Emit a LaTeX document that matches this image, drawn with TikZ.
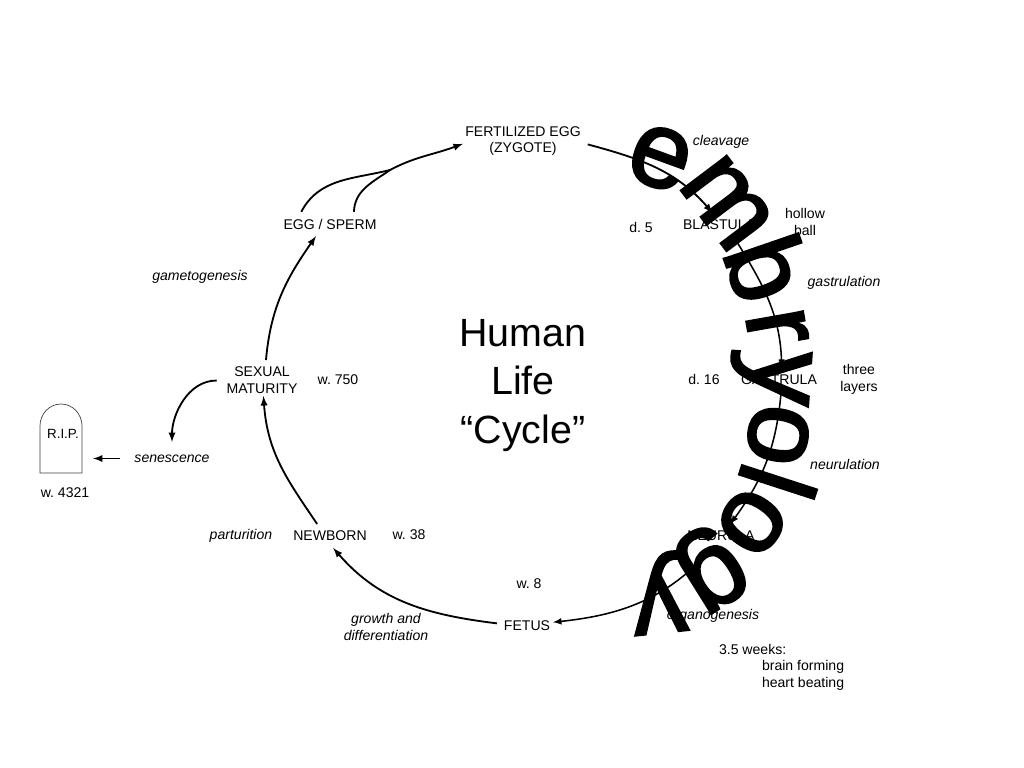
\documentclass[tikz,border=0pt]{standalone}
\usepackage{fontspec}
\setmainfont{Liberation Sans}
\newfontfamily\bigfont[FakeBold=2.2]{Liberation Sans}
\usetikzlibrary{arrows}
\begin{document}
\frenchspacing
\begin{tikzpicture}
	[   x=0.025cm,y=0.025cm,
		lnode/.style={font=\fontsize{10}{12}\selectfont,align=center,inner sep=2pt,outer sep=3pt},
		inode/.style={lnode,font=\fontsize{10}{12}\selectfont\itshape},
		bnode/.style={font=\fontsize{77}{77}\selectfont\bigfont,inner sep=0pt},
	]
	\tikzset{normal arrow/.style={draw,-latex,line width=1.3pt},
		thin arrow/.style={draw,-latex,line width=1.1pt}}
	\useasboundingbox (0,0) rectangle (1024,-768);
	
	\node[lnode] (zygote) at (523,-141) {FERTILIZED EGG\\(ZYGOTE)};
	\node[lnode] (blastula) at (719,-225) {BLASTULA};
	\node[lnode] (gastrula) at (779,-380) {GASTRULA};
	\node[lnode] (neurula) at (721,-536) {NEURULA};
	\node[lnode] (fetus) at (527,-626) {FETUS};
	\node[lnode] (newborn) at (330,-536) {NEWBORN};
	\node[lnode] (maturity) at (262,-380.5) {SEXUAL\\MATURITY};
	\node[lnode] (egg) at (330,-224) {EGG / SPERM};
	\node[inode] (senescence) at (172,-458.5) {senescence};
	\node[lnode,font=\fontsize{9.5}{11}\selectfont] (rip) at (63,-434) {R.I.P.};
	
	\node[inode] (cleavage) at (721,-142) {cleavage};
	\node[inode] (gastrulation) at (844,-283) {gastrulation};
	\node[inode] (neurulation) at (845,-464) {neurulation};
	\node[inode] (organogenesis) at (713,-616) {organogenesis};
	\node[inode] (growth) at (386,-627) {growth and\\differentiation};
	\node[inode] (parturition) at (241,-536) {parturition};
	\node[inode] (gametogenesis) at (200,-277) {gametogenesis};
	
	\node[lnode] (d-5) at (641,-227) {d. 5};
	\node[lnode] (d-16) at (704,-379) {d. 16};
	\node[lnode] (w-8) at (529,-584) {w. 8};
	\node[lnode] (w-38) at (409,-535) {w. 38};
	\node[lnode] (w-750) at (338,-380) {w. 750};
	\node[lnode] (w-4321) at (65,-493) {w. 4321};
	\node[lnode] (hollow) at (805,-222) {hollow\\ball};
	\node[lnode] (three) at (859,-379) {three\\layers};
	\node[lnode,anchor=west] (weeks) at (712,-649) {3.5 weeks:};
	\node[lnode,anchor=west] (brain) at (755,-667) {brain forming};
	\node[lnode,anchor=west] (heart) at (755,-684) {heart beating};
	
	\node[font=\fontsize{28}{34.5}\selectfont,align=center] (title) at (523,-385.5) {Human\\Life\\“Cycle”};
	
	% grave stone
	\draw[line width=0.5pt,draw=black!75] (40,-473) -- (40,-426) arc (180:0:21 and 22) -- (82,-473) -- cycle;
	\coordinate (stone) at (93,-458.5);
	
	\path[normal arrow] (zygote.-3) to[out=-15,in=131] (blastula.118);
	\path[thin arrow] (blastula.-39) to[out=-58,in=92] (gastrula.77);
	\path[thin arrow] (gastrula.-80) to[out=-95,in=54] (neurula.52);
	\path[thin arrow,shorten >=-3pt] (neurula.-125) to[out=-132,in=6] (fetus.8);
	\path[normal arrow] (fetus.175) to[out=173,in=-49] (newborn.-75);
	\path[normal arrow,shorten >=-3.5pt] (newborn.137) to[out=124,in=-86] (maturity.-85);
	\path[normal arrow] (maturity.79) to[out=85,in=-125] (egg.-139);
	\coordinate (merge) at (390,-170);
	\draw[line width=1.3pt] (egg.27) to[out=88,in=-145] (merge);
	\path[normal arrow,shorten >=-3.5pt] (egg.157) to[out=62,in=194] (merge) to[out=28,in=200] (zygote.184);
	\path[normal arrow,shorten <=2pt,shorten >=4pt] (maturity.west) to[out=180,in=90] (senescence.north);
	\path[normal arrow,shorten <=5pt] (senescence.west) -- (stone);
	
	% big letters on the arc
	\foreach \ch/\px/\py/\ang/\nm in {e/660/158/-20/a,m/727/203/-53/b,b/768/268/-71/c,r/777/327/-80/d,y/770/377/-94/e,o/778/435/-100/f,l/778/482/-108/g,o/752/522/-125/h,g/710/568/-148/i,y/658/593/-174/j}
	{
		\node[bnode,rotate=\ang] (letter-\nm) at (\px,-\py) {\ch};
	}
\end{tikzpicture}
\end{document}
